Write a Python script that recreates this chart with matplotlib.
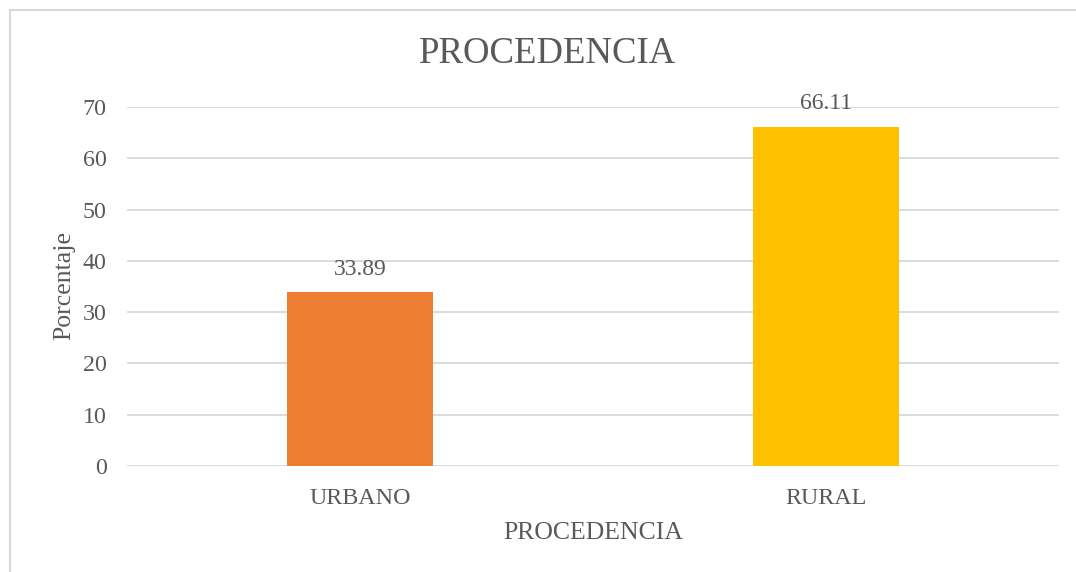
import matplotlib
matplotlib.use("Agg")
import matplotlib.pyplot as plt
from matplotlib.patches import Rectangle

categories = ["URBANO", "RURAL"]
values = [33.89, 66.11]
colors = ["#ED7D31", "#FFC000"]
yticks = [0, 10, 20, 30, 40, 50, 60, 70]

W, H = 1076, 572
fig = plt.figure(figsize=(W / 100, H / 100), dpi=100)
plt.rcParams['font.family'] = ['Liberation Serif', 'DejaVu Serif']
txt = "#595959"
grid = "#D9D9D9"

# chart border
fig.patches.append(Rectangle((10 / W, -0.01), 1.02 - 10 / W, 1.01 - 10 / H,
                             transform=fig.transFigure, fill=False,
                             edgecolor=grid, linewidth=1.5))

ax = fig.add_axes([127 / W, 1 - 466 / H, (1059 - 127) / W, (466 - 107) / H])
x = list(range(len(categories)))
bars = ax.bar(x, values, width=0.315, color=colors, zorder=3)
ax.set_xlim(-0.5, len(categories) - 0.5)
ax.set_ylim(0, 70)
ax.set_yticks(yticks)
ax.set_yticklabels([str(t) for t in yticks])
ax.set_xticks(x)
ax.set_xticklabels(categories)
ax.tick_params(axis='both', length=0, labelsize=17.3, colors=txt)
ax.tick_params(axis='x', pad=16)
ax.tick_params(axis='y', pad=14.5)
for s in ax.spines.values():
    s.set_visible(False)
ax.yaxis.grid(True, color=grid, linewidth=1.3, zorder=0)
ax.set_axisbelow(True)

for xi, v in zip(x, values):
    ax.annotate(f"{v:.2f}", (xi, v), xytext=(0, 9), textcoords="offset points",
                ha="center", va="bottom", fontsize=17, color=txt)

fig.text(548 / W, 1 - 54 / H, "PROCEDENCIA", ha="center", va="center",
         fontsize=26.5, color=txt)
fig.text(0.5 * (127 + 1059) / W, 1 - 533 / H, "PROCEDENCIA", ha="center", va="center",
         fontsize=18.5, color=txt)
fig.text(64.5 / W, 1 - 286 / H, "Porcentaje", ha="center", va="center", rotation=90,
         fontsize=18.5, color=txt)

fig.savefig("out.png", dpi=100)
